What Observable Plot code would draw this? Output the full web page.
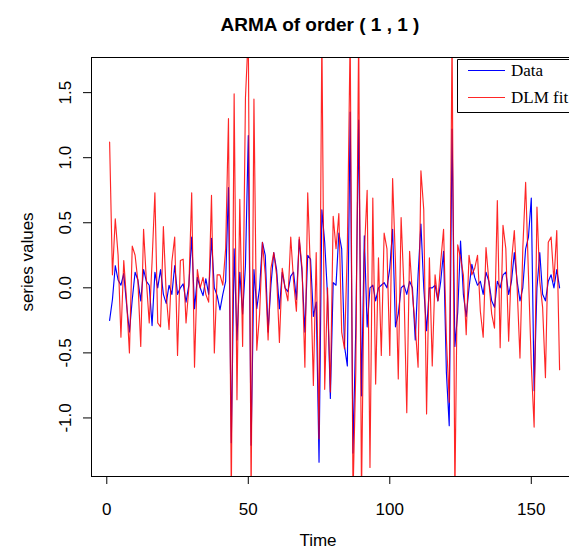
<!DOCTYPE html>
<html>
<head>
<meta charset="utf-8">
<script src="https://cdn.jsdelivr.net/npm/d3@7"></script>
<script src="https://cdn.jsdelivr.net/npm/@observablehq/plot@0.6"></script>
<style>
  html, body { margin: 0; padding: 0; background: #fff; overflow: hidden; }
  #chart svg { display: block; }
</style>
</head>
<body>
<div id="chart"></div>
<script>
// ---- Data ----
const chartTitle = "ARMA of order ( 1 , 1 )";
const xLabel = "Time";
const yLabel = "series values";
const seriesNames = ["Data", "DLM fit"];
const seriesColors = ["#0000ff", "#ff0000"];
const xTicks = [0, 50, 100, 150];
const yTicks = [-1.0, -0.5, 0.0, 0.5, 1.0, 1.5];
const yTickLabels = ["-1.0", "-0.5", "0.0", "0.5", "1.0", "1.5"];

// Observed series (blue), t = 1..160
const dataValues = [
  -0.25, -0.09, 0.17, 0.06, 0.02, 0.11, -0.13, -0.34, -0.09, 0.12,
  0.06, -0.10, 0.14, 0.05, 0.02, -0.29, 0.12, 0.00, 0.14, -0.05,
  -0.12, 0.02, -0.05, 0.17, -0.05, 0.00, 0.03, -0.11, 0.02, 0.39,
  -0.16, 0.08, 0.00, -0.06, 0.07, -0.05, 0.38, 0.00, -0.06, -0.17,
  -0.05, 0.05, 0.77, -1.19, 0.30, -0.40, 0.12, -0.20, 0.17, 1.17,
  -1.21, 0.14, -0.16, 0.00, 0.35, 0.25, -0.34, 0.02, 0.27, 0.14,
  -0.16, 0.12, 0.00, -0.03, 0.09, 0.12, -0.09, 0.37, 0.12, -0.34,
  0.25, 0.22, -0.22, -0.11, -1.34, 0.60, 0.35, -0.06, -0.85, 0.04,
  0.02, 0.42, 0.30, -0.45, -0.60, 1.35, -1.27, -0.30, 1.29, -0.83,
  0.40, -0.30, 0.00, 0.02, -0.10, 0.00, 0.02, 0.04, 0.00, 0.15,
  0.45, -0.30, -0.20, 0.00, 0.02, -0.05, 0.05, 0.00, -0.40, 0.10,
  0.49, 0.00, -0.33, 0.00, 0.00, 0.02, -0.10, 0.05, 0.28, -0.65,
  -1.06, 1.22, -0.45, -0.19, 0.36, -0.05, -0.22, 0.00, 0.18, 0.08,
  0.02, 0.05, -0.05, 0.12, 0.05, -0.10, -0.15, 0.05, 0.00, 0.10,
  0.12, -0.05, 0.05, 0.27, 0.05, -0.10, 0.00, 0.30, 0.39, 0.69,
  -0.79, 0.00, 0.27, -0.05, -0.10, 0.05, 0.10, 0.00, 0.14, 0.00
];

// DLM fit (red), t = 1..160
const fitValues = [
  1.12, 0.10, 0.53, 0.25, -0.38, 0.21, -0.10, -0.50, 0.32, 0.25,
  0.05, -0.45, 0.45, 0.05, -0.27, 0.20, 0.73, -0.27, -0.30, 0.47,
  -0.05, -0.32, 0.20, 0.39, -0.52, 0.21, 0.22, -0.27, 0.00, 0.73,
  -0.61, 0.14, 0.00, 0.08, -0.05, -0.11, 0.71, -0.50, 0.10, 0.10,
  0.02, 0.30, 1.30, -1.60, 1.49, -0.86, 0.68, -0.45, 1.46, 1.95,
  -1.60, 1.45, -0.48, -0.20, 0.35, 0.10, -0.40, 0.15, 0.27, 0.10,
  -0.42, 0.15, 0.00, -0.10, 0.39, 0.05, -0.18, 0.39, 0.15, -0.61,
  0.73, 0.10, -0.75, 0.27, -1.16, 1.95, -0.78, 0.00, -0.80, 0.55,
  0.30, 0.57, -0.34, -0.47, 0.30, 1.95, -1.60, -0.63, 1.95, -1.60,
  0.26, 0.75, -1.38, 0.69, -0.74, 0.23, -0.52, 0.42, 0.30, -0.52,
  0.84, 0.20, -0.70, 0.54, 0.00, -0.96, 0.28, -0.05, -0.30, -0.61,
  0.90, 0.60, -0.97, 0.23, -0.60, 0.10, -0.10, 0.20, 0.45, -0.39,
  -0.88, 1.95, -1.60, 0.33, 0.23, 0.10, -0.36, 0.25, 0.10, 0.15,
  0.25, -0.18, -0.38, 0.31, 0.05, -0.20, -0.31, 0.67, -0.46, 0.48,
  0.30, -0.41, 0.20, 0.44, 0.00, -0.54, 0.30, 0.81, 0.10, -0.59,
  -1.07, 0.62, 0.05, -0.15, -0.69, 0.35, 0.39, 0.05, 0.44, -0.63
];

// ---- Build table ----
const rows = dataValues.map((v, i) => ({ t: i + 1, data: v, fit: fitValues[i] }));
const xDomain = [-5.4, 163.5];
const yDomain = [-1.45, 1.77];

const W = 569, H = 550;
const sansFont = "'Liberation Sans', Arial, Helvetica, sans-serif";
const serifFont = "'Liberation Serif', 'Times New Roman', Times, serif";

const plot = Plot.plot({
  width: W,
  height: H,
  marginLeft: 91,
  marginRight: 0,
  marginTop: 57,
  marginBottom: 74,
  x: { domain: xDomain },
  y: { domain: yDomain },
  style: { fontFamily: sansFont, fontSize: "17px", background: "#fff", color: "#000" },
  marks: [
    Plot.lineY(rows, { x: "t", y: "data", stroke: seriesColors[0], strokeWidth: 1.15, clip: true }),
    Plot.lineY(rows, { x: "t", y: "fit", stroke: seriesColors[1], strokeWidth: 1.15, strokeOpacity: 0.85, clip: true }),
    // plot box (left, top, bottom; right edge lies beyond the picture)
    Plot.ruleX([xDomain[0]], { stroke: "#000", strokeWidth: 1 }),
    Plot.ruleY(yDomain, { stroke: "#000", strokeWidth: 1 }),
    Plot.axisX({ ticks: xTicks, tickSize: 8, tickPadding: 18, label: null, fontSize: 17, stroke: "#000" }),
    Plot.axisY({ ticks: yTicks, tickSize: 8, tickFormat: () => "", label: null, stroke: "#000" }),
    Plot.text(yTicks, {
      y: d => d,
      text: (d, i) => yTickLabels[i],
      frameAnchor: "left",
      dx: -26,
      rotate: -90,
      textAnchor: "middle",
      lineAnchor: "middle",
      fontSize: 17,
      fill: "#000"
    })
  ]
});

const svg = d3.select(plot);

// title
svg.append("text")
  .attr("x", 320).attr("y", 31)
  .attr("text-anchor", "middle")
  .attr("font-family", sansFont)
  .attr("font-weight", "bold")
  .attr("font-size", 19)
  .attr("fill", "#000")
  .text(chartTitle);

// x label
svg.append("text")
  .attr("x", 318).attr("y", 546)
  .attr("text-anchor", "middle")
  .attr("font-family", sansFont)
  .attr("font-size", 17)
  .attr("fill", "#000")
  .text(xLabel);

// y label
svg.append("text")
  .attr("transform", "translate(33,262) rotate(-90)")
  .attr("text-anchor", "middle")
  .attr("font-family", sansFont)
  .attr("font-size", 17)
  .attr("fill", "#000")
  .text(yLabel);

// legend
const lg = svg.append("g");
lg.append("rect").attr("x", 457.5).attr("y", 59.5).attr("width", W - 457.5).attr("height", 53).attr("fill", "#fff");
lg.append("path").attr("d", `M${W},59.5H457.5V112.5H${W}`).attr("fill", "none").attr("stroke", "#000").attr("stroke-width", 1);
const legendY = [70.5, 97.5];
seriesNames.forEach((name, i) => {
  lg.append("line")
    .attr("x1", 468).attr("x2", 505)
    .attr("y1", legendY[i]).attr("y2", legendY[i])
    .attr("stroke", seriesColors[i]).attr("stroke-width", 1)
    .attr("stroke-opacity", i === 1 ? 0.85 : 1);
  lg.append("text")
    .attr("x", 511).attr("y", legendY[i] + 5.8)
    .attr("text-anchor", "start")
    .attr("font-family", serifFont)
    .attr("font-size", 17)
    .attr("fill", "#000")
    .text(name);
});

document.getElementById("chart").appendChild(plot);
</script>
</body>
</html>
